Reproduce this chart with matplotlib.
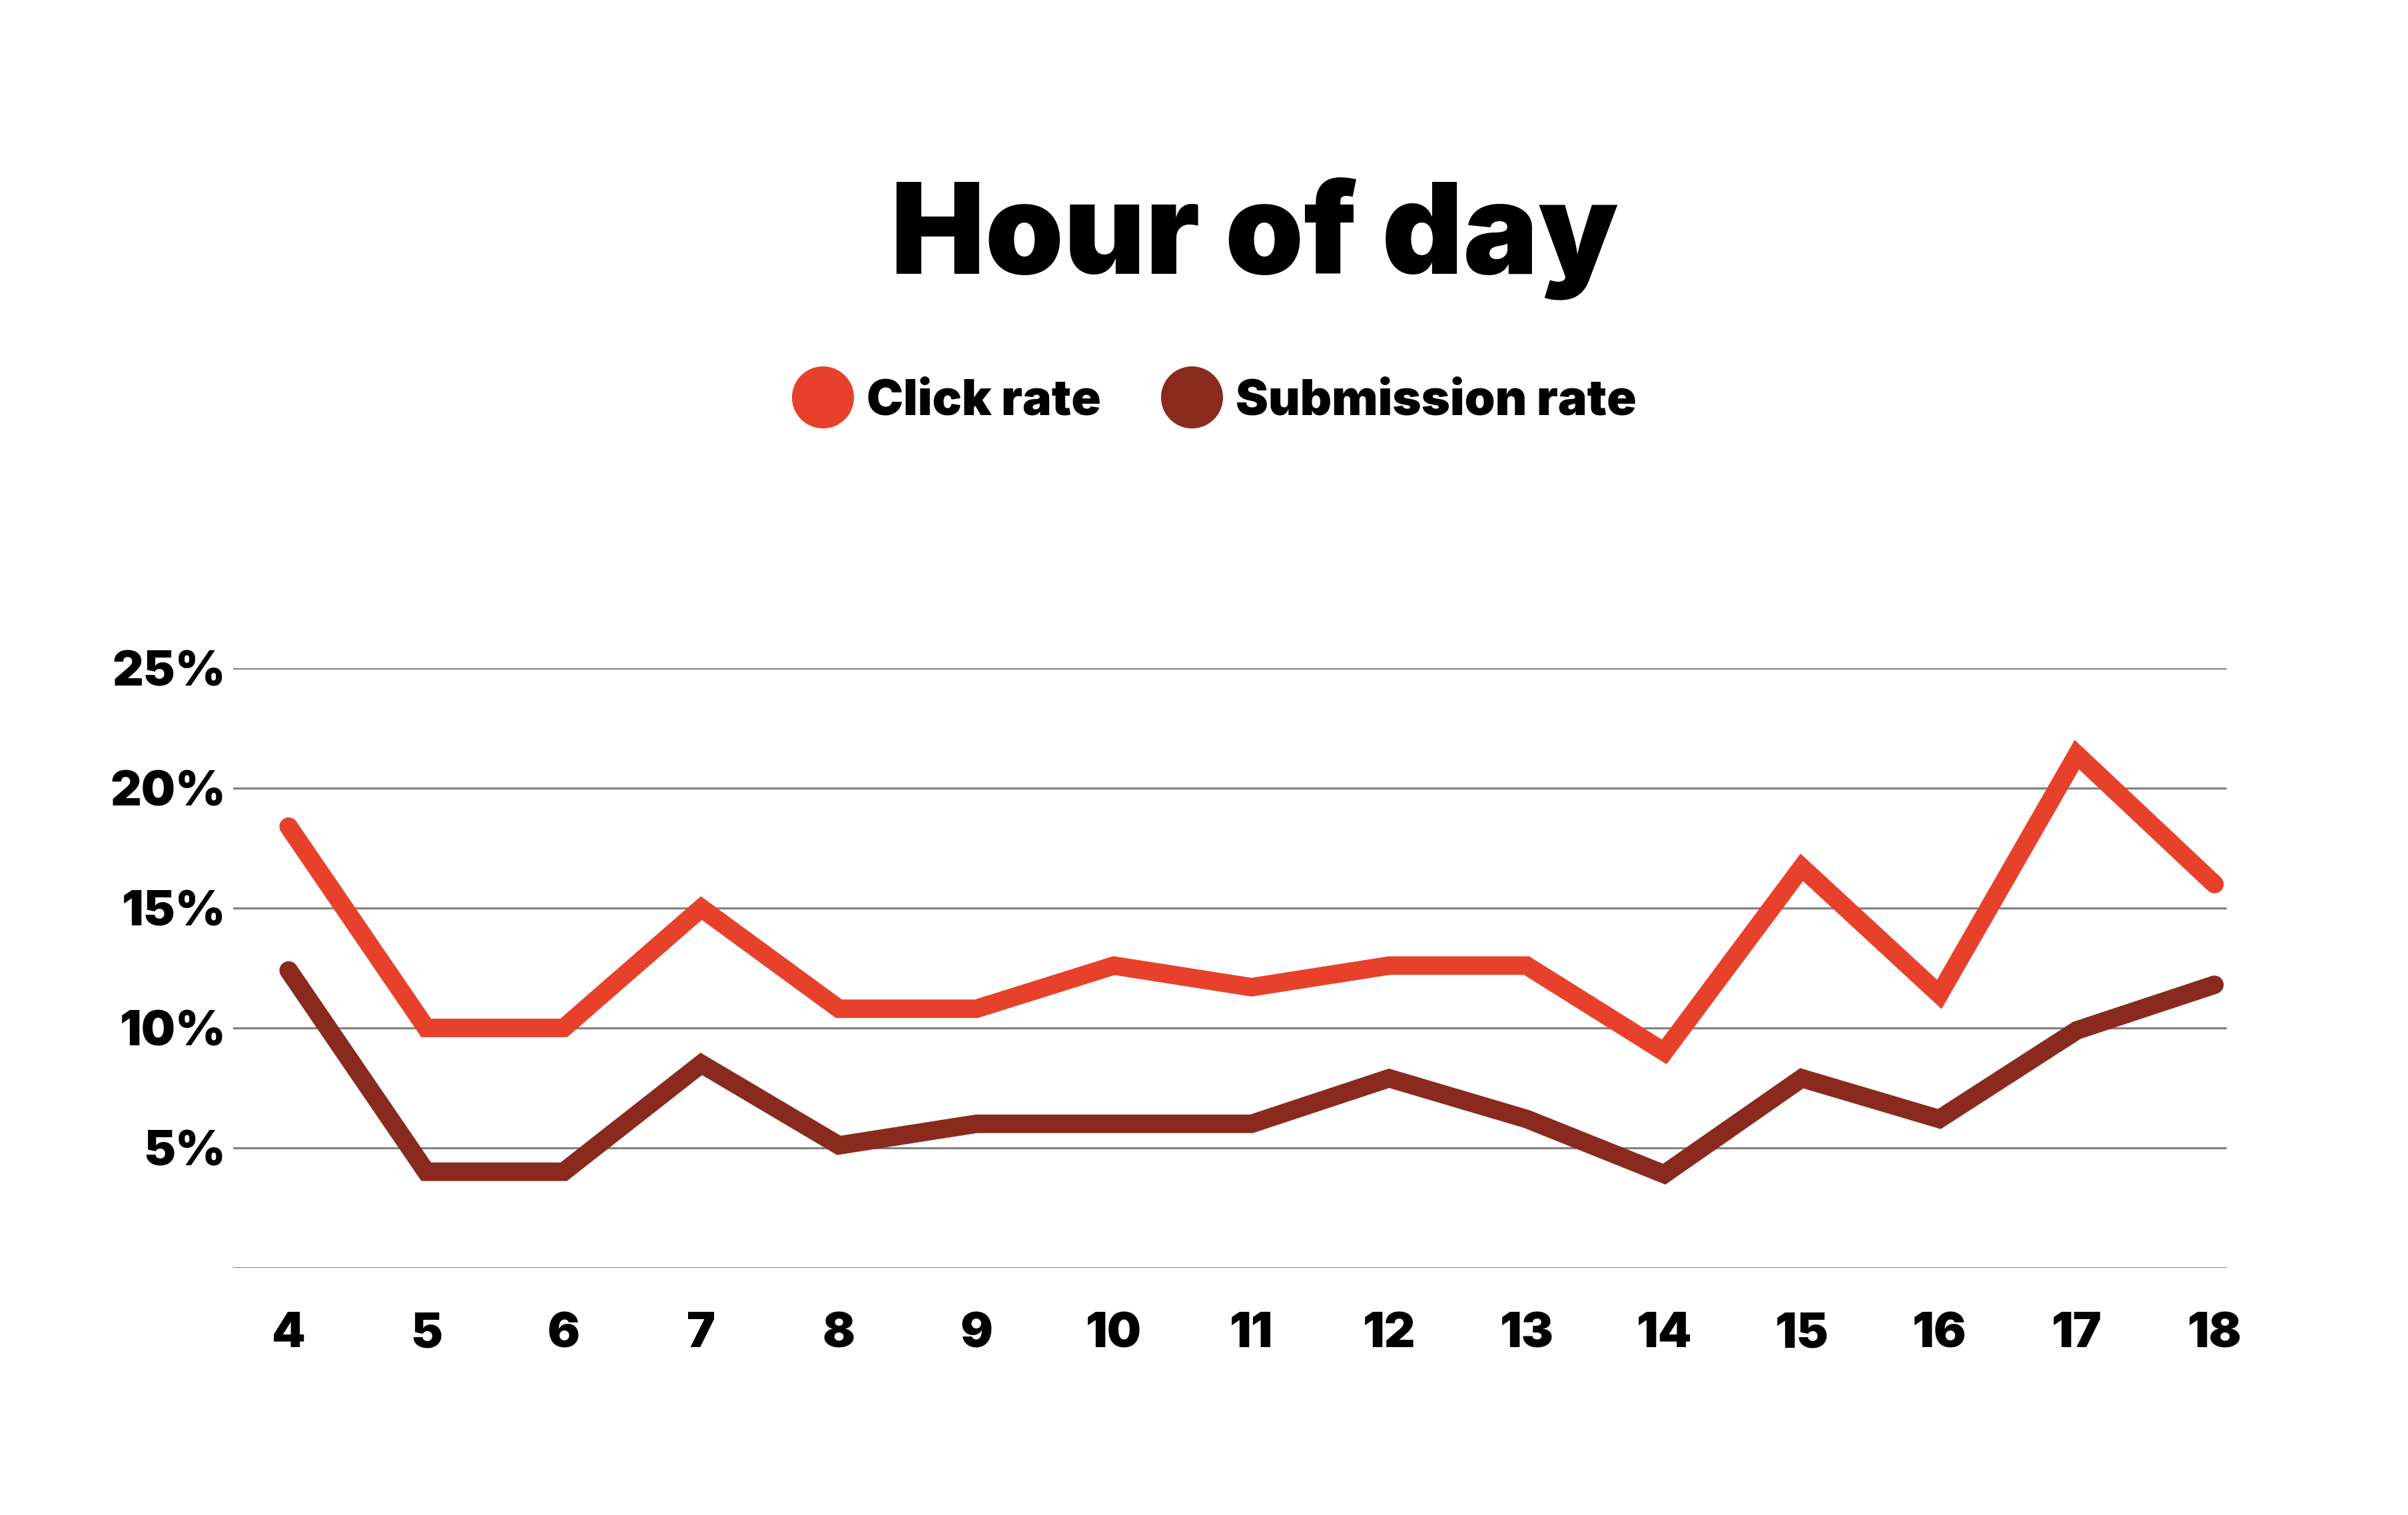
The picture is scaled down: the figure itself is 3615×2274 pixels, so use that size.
import matplotlib
matplotlib.use("Agg")
import matplotlib.pyplot as plt
from matplotlib.lines import Line2D
from matplotlib.ticker import FuncFormatter

plt.rcParams["font.family"] = ["Inter", "DejaVu Sans"]

hours = [4, 5, 6, 7, 8, 9, 10, 11, 12, 13, 14, 15, 16, 17, 18]
click_rate = [18.4, 10.0, 10.0, 15.0, 10.8, 10.8, 12.6, 11.7, 12.6, 12.6, 9.0, 16.7, 11.4, 21.4, 16.0]
submission_rate = [12.4, 4.0, 4.0, 8.5, 5.1, 6.0, 6.0, 6.0, 7.9, 6.2, 3.9, 7.9, 6.2, 9.9, 11.8]
y_ticks = [5, 10, 15, 20, 25]

CLICK = "#E8412B"
SUBMIT = "#8A2A1F"
GRID = "#808080"

fig = plt.figure(figsize=(36.15, 22.74), dpi=100)
ax = fig.add_axes([0.0969, 0.1633, 0.8278, 0.3955])

for vals, color in [(click_rate, CLICK), (submission_rate, SUBMIT)]:
    ax.plot(hours, vals, color=color, lw=20, solid_joinstyle="miter",
            solid_capstyle="round", clip_on=False, zorder=3)

ax.set_xlim(3.598, 18.089)
ax.set_ylim(0, 25)
ax.set_yticks([0] + y_ticks)
ax.yaxis.set_major_formatter(FuncFormatter(lambda v, _: "" if v == 0 else f"{v:.0f}%"))
ax.set_xticks(hours)
ax.set_xticklabels([str(h) for h in hours])
ax.grid(axis="y", color=GRID, lw=2.2)
ax.set_axisbelow(True)
for s in ax.spines.values():
    s.set_visible(False)
ax.tick_params(length=0, labelsize=52)
ax.tick_params(axis="y", pad=8)
ax.tick_params(axis="x", pad=48)
for lab in ax.get_xticklabels() + ax.get_yticklabels():
    lab.set_fontweight("black")

fig.text(0.521, 0.842, "Hour of day", ha="center", va="center",
         fontsize=136, fontweight="black")

handles = [Line2D([], [], ls="none", marker="o", ms=66, color=c) for c in (CLICK, SUBMIT)]
fig.legend(handles, ["Click rate", "Submission rate"], loc="center",
           bbox_to_anchor=(0.506, 0.735), ncol=2, frameon=False,
           handlelength=0.9, handletextpad=0.45, columnspacing=1.4,
           prop={"size": 53, "weight": "black"})

fig.savefig("out.png", dpi=100, facecolor="white")
